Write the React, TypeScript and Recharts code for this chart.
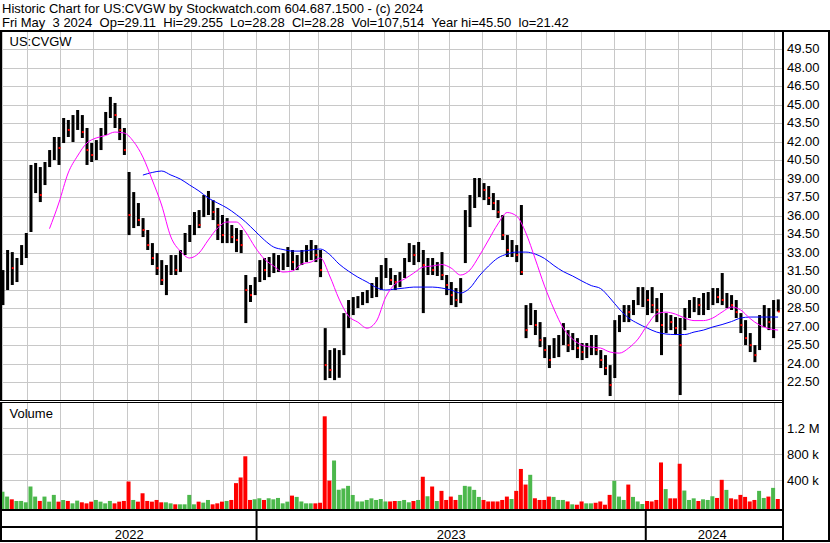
import { Bar, CartesianGrid, Cell, ComposedChart, Line, XAxis, YAxis } from 'recharts';

// one sample = 3 trading sessions, day 0 = first session shown (May 2022)
const STEP = 3;
const DAY_DOMAIN: [number, number] = [-0.5, 500.5];
const PRICE_DOMAIN: [number, number] = [21, 51];
const VOL_DOMAIN: [number, number] = [-46000, 1600000];

const highs = [
  31.64, 33.27, 33.1, 32.62, 33.67, 34.65, 40.17, 40.33, 40.0, 40.41,
  41.38, 42.44, 42.44, 43.98, 43.82, 44.22, 44.63, 44.22, 43.17, 41.95,
  42.19, 43.17, 44.47, 45.69, 45.2, 43.98, 43.17, 39.6, 37.97, 37.08,
  35.86, 34.89, 33.83, 33.02, 32.45, 32.05, 32.86, 32.86, 33.27, 34.65,
  35.3, 36.35, 36.51, 37.73, 38.06, 37.32, 36.68, 36.11, 35.86, 35.3,
  35.05, 34.89, 31.24, 30.43, 31.07, 32.45, 32.62, 32.7, 33.02, 32.86,
  33.02, 33.51, 33.27, 32.86, 33.27, 33.67, 34.08, 33.67, 33.27, 26.93,
  25.15, 25.3, 25.15, 28.15, 29.21, 29.45, 29.53, 29.86, 30.02, 30.59,
  31.07, 32.05, 32.62, 31.8, 31.24, 31.48, 32.62, 33.83, 33.67, 33.92,
  33.27, 32.62, 32.62, 32.29, 33.1, 31.24, 30.67, 30.18, 30.99, 36.51,
  37.73, 39.11, 39.11, 38.7, 38.46, 37.89, 37.32, 36.11, 34.48, 34.08,
  33.67, 36.92, 28.8, 28.96, 28.4, 27.42, 26.2, 25.55, 26.12, 26.37,
  27.34, 26.77, 26.53, 26.12, 25.72, 25.72, 26.37, 26.37, 25.15, 24.74,
  23.93, 27.58, 27.99, 28.8, 28.8, 29.21, 30.26, 30.26, 30.02, 30.26,
  29.37, 29.78, 28.15, 27.99, 27.83, 27.75, 28.56, 29.21, 29.45, 29.37,
  29.78, 29.86, 30.18, 30.18, 31.4, 29.78, 29.61, 29.21, 28.15, 27.58,
  26.53, 25.55, 27.99, 28.8, 28.56, 29.21, 29.26,
];

const lows = [
  28.8, 30.02, 30.43, 30.67, 32.05, 32.62, 34.73, 37.89, 37.16, 38.54,
  40.0, 40.57, 40.17, 41.95, 42.44, 42.03, 43.01, 42.36, 40.17, 40.41,
  40.57, 41.38, 42.6, 43.98, 43.17, 42.19, 40.98, 34.48, 35.05, 35.21,
  34.32, 33.27, 32.05, 31.24, 30.43, 29.61, 31.24, 31.24, 31.48, 32.86,
  33.92, 34.48, 35.05, 35.94, 36.11, 35.7, 34.08, 33.83, 33.83, 33.83,
  33.1, 33.02, 27.34, 29.05, 29.61, 30.67, 30.83, 31.07, 31.4, 31.48,
  31.64, 31.89, 31.64, 31.64, 32.05, 32.29, 32.45, 32.29, 31.07, 22.71,
  22.88, 22.71, 22.9, 24.74, 26.93, 27.99, 28.56, 28.8, 28.96, 29.37,
  29.45, 30.02, 31.0, 30.43, 30.02, 30.26, 31.0, 32.29, 32.05, 32.29,
  28.15, 31.24, 31.24, 31.16, 30.83, 29.61, 28.8, 28.64, 28.96, 32.21,
  35.13, 36.68, 37.57, 37.32, 36.92, 36.51, 35.86, 34.08, 32.7, 32.7,
  32.29, 31.24, 26.12, 27.18, 26.37, 25.39, 24.5, 23.69, 24.5, 24.58,
  25.55, 24.99, 25.15, 24.5, 24.34, 24.5, 24.74, 24.74, 23.69, 23.12,
  21.42, 22.88, 26.61, 27.42, 27.42, 27.99, 28.8, 28.64, 27.99, 28.15,
  27.42, 24.74, 26.53, 26.77, 26.37, 21.5, 26.77, 27.75, 28.23, 27.99,
  27.99, 28.4, 28.8, 28.96, 28.8, 28.56, 28.4, 27.75, 26.53, 25.55,
  24.99, 24.17, 25.15, 27.02, 26.77, 26.12, 28.28,
];

const closes = [
  30.59, 32.05, 31.8, 32.29, 33.27, 34.08, 37.97, 39.35, 37.73, 39.92,
  40.98, 41.79, 41.55, 43.41, 43.01, 43.82, 44.22, 42.84, 41.38, 40.98,
  41.79, 42.84, 43.98, 45.04, 44.22, 43.01, 41.38, 36.11, 36.92, 35.7,
  34.89, 33.67, 32.62, 31.8, 30.83, 31.24, 32.29, 31.64, 32.86, 34.08,
  34.73, 35.7, 35.3, 36.92, 37.32, 36.35, 35.3, 34.48, 35.3, 34.32,
  34.08, 33.67, 30.02, 29.61, 30.67, 31.8, 31.64, 32.05, 32.29, 32.29,
  32.45, 32.86, 32.29, 32.29, 32.86, 33.27, 33.43, 32.86, 31.64, 23.93,
  23.53, 24.1, 24.74, 26.77, 28.4, 28.8, 29.21, 29.37, 29.61, 30.02,
  30.43, 31.64, 32.05, 30.83, 30.67, 30.99, 32.29, 33.27, 32.86, 32.86,
  32.05, 32.05, 31.64, 31.8, 31.24, 30.43, 29.61, 29.21, 30.43, 36.11,
  36.92, 38.14, 38.3, 38.14, 37.49, 37.08, 36.35, 34.48, 33.27, 33.43,
  32.86, 31.48, 26.77, 28.4, 27.18, 25.96, 25.15, 24.34, 25.55, 25.96,
  26.37, 25.55, 25.96, 25.31, 24.99, 25.15, 25.96, 25.15, 24.34, 23.69,
  22.31, 27.18, 27.58, 28.4, 28.23, 28.56, 29.61, 29.78, 29.21, 28.8,
  28.4, 27.18, 27.58, 27.42, 26.93, 25.55, 27.99, 28.8, 28.96, 28.8,
  29.21, 29.37, 29.61, 29.45, 29.21, 29.21, 28.8, 28.23, 27.18, 26.12,
  25.55, 24.74, 27.58, 28.23, 27.42, 28.8, 28.28,
];

// thousands of shares
const volumes = [
  220, 145, 103, 78, 78, 57, 300, 145, 78, 145,
  67, 171, 67, 93, 78, 41, 83, 57, 41, 67,
  93, 67, 41, 78, 41, 67, 78, 377, 93, 67,
  196, 78, 67, 93, 57, 57, 41, 26, 26, 26,
  171, 26, 67, 52, 93, 26, 41, 67, 78, 93,
  352, 439, 765, 93, 103, 119, 93, 119, 103, 124,
  41, 67, 160, 140, 70, 41, 41, 41, 50, 1380,
  390, 700, 250, 270, 310, 170, 70, 70, 93, 118,
  93, 108, 70, 70, 77, 77, 93, 57, 77, 93,
  450, 150, 300, 77, 233, 93, 145, 93, 171, 310,
  300, 248, 140, 93, 70, 70, 70, 93, 145, 108,
  233, 570, 330, 480, 119, 93, 93, 145, 140, 93,
  93, 70, 26, 20, 70, 41, 41, 50, 70, 20,
  171, 388, 145, 93, 330, 140, 70, 31, 77, 70,
  93, 670, 260, 118, 118, 650, 238, 93, 118, 77,
  103, 93, 150, 124, 403, 248, 118, 103, 171, 140,
  70, 93, 233, 124, 145, 279, 108,
];

// short average (magenta), every second sample from sample 10
const FAST_START = 10;
const fastAverage = [
  35.0, 37.08, 39.52, 40.9, 41.95, 42.36, 42.56, 42.84, 42.76, 42.07,
  40.81, 38.95, 36.92, 34.32, 33.18, 32.62, 33.02, 34.08, 35.05, 35.54,
  35.54, 34.73, 33.51, 32.54, 31.97, 31.48, 31.56, 32.13, 32.29, 32.62,
  31.16, 29.29, 27.91, 27.42, 26.93, 27.5, 29.45, 30.51, 30.91, 31.4,
  31.89, 31.97, 32.09, 31.8, 31.24, 31.64, 32.78, 34.08, 35.38, 36.31,
  36.03, 34.65, 32.54, 30.34, 28.48, 26.93, 26.04, 25.55, 25.39, 25.31,
  24.99, 24.9, 25.31, 26.04, 27.18, 28.07, 28.23, 28.07, 27.75, 27.54,
  27.54, 27.75, 28.23, 28.64, 28.4, 27.71, 27.18, 26.89, 26.77,
];

// long average (blue), every second sample from sample 30
const SLOW_START = 30;
const slowAverage = [
  39.35, 39.56, 39.68, 39.35, 39.03, 38.54, 38.06, 37.49, 37.08, 36.68,
  36.15, 35.54, 34.81, 34.08, 33.51, 33.31, 33.18, 33.18, 33.27, 33.35,
  32.9, 32.13, 31.56, 31.07, 30.67, 30.22, 30.02, 30.1, 30.18, 30.26,
  30.26, 30.26, 30.18, 30.02, 29.78, 30.18, 31.16, 31.97, 32.62, 32.94,
  33.1, 33.1, 32.94, 32.58, 32.01, 31.52, 31.16, 30.75, 30.38, 30.14,
  29.37, 28.48, 27.75, 27.3, 26.93, 26.61, 26.45, 26.41, 26.41, 26.61,
  26.77, 27.02, 27.22, 27.46, 27.75, 27.83, 27.83, 27.83, 27.83,
];

// first session of each month (day index)
const monthStarts = [
  16, 37, 58, 80, 100, 121, 142, 163, 184, 203, 224, 245,
  267, 287, 308, 330, 349, 372, 393, 413, 434, 455, 475, 496,
];
const yearStarts = [163, 413];
const years = ['2022', '2023', '2024'];

const priceTicks = [
  21, 22.5, 24, 25.5, 27, 28.5, 30, 31.5, 33, 34.5, 36,
  37.5, 39, 40.5, 42, 43.5, 45, 46.5, 48, 49.5, 51,
];
const volumeTicks = [400000, 800000, 1200000, 1600000];

const yearEdges = [DAY_DOMAIN[0], ...yearStarts, DAY_DOMAIN[1] - 2];
const yearMids = years.map((_, i) => (yearEdges[i] + yearEdges[i + 1]) / 2);

const data = highs.map((high, i) => {
  const down = i > 0 && closes[i] < closes[i - 1];
  const f = i - FAST_START;
  const s = i - SLOW_START;
  return {
    day: i * STEP,
    high,
    low: lows[i],
    close: closes[i],
    range: [lows[i], high],
    down,
    vol: [VOL_DOMAIN[0], volumes[i] * 1000],
    fast: f >= 0 && f % 2 === 0 ? fastAverage[f / 2] : null,
    slow: s >= 0 && s % 2 === 0 ? slowAverage[s / 2] : null,
  };
});

const FONT = '"Liberation Sans", Arial, sans-serif';
const GRID = '#c8c8c8';

function PriceBar(props: any) {
  const { x, y, width, height, payload } = props;
  const top = Math.min(y, y + height);
  const h = Math.max(Math.abs(height), 1);
  const span = payload.high - payload.low;
  const cy = span > 0 ? top + (h * (payload.high - payload.close)) / span : top;
  return (
    <g>
      <rect x={x} y={top} width={width} height={h} fill="#000" />
      {payload.down && <rect x={x + width - 2} y={cy - 1} width={2} height={2} fill="#ff0000" />}
    </g>
  );
}

function PriceTick({ x, y, payload }: any) {
  const v = payload.value;
  if (v <= PRICE_DOMAIN[0] || v >= PRICE_DOMAIN[1]) return <g />;
  return (
    <text x={x} y={y + 3.5} fontSize={13} fontFamily={FONT} fill="#000" textAnchor="start">
      {v.toFixed(2)}
    </text>
  );
}

function VolumeTick({ x, y, payload }: any) {
  const v = payload.value;
  if (v >= VOL_DOMAIN[1]) return <g />;
  const label = v >= 1000000 ? `${v / 1000000} M` : `${v / 1000} k`;
  return (
    <text x={x} y={y + 4.5} fontSize={13} fontFamily={FONT} fill="#000" textAnchor="start">
      {label}
    </text>
  );
}

function YearTick({ x, y, payload }: any) {
  const v = payload.value;
  if (yearStarts.includes(v)) {
    return <line x1={x} x2={x} y1={y} y2={y + 33} stroke="#000" strokeWidth={2} />;
  }
  const i = yearMids.indexOf(v);
  return (
    <text x={x} y={y + 30} fontSize={13} fontFamily={FONT} fill="#000" textAnchor="middle">
      {years[i]}
    </text>
  );
}

const pre = { whiteSpace: 'pre' as const };

export default function App() {
  return (
    <div style={{ position: 'absolute', left: 0, top: 0, width: 830, height: 543, background: '#fff' }}>
      <div style={{ position: 'absolute', left: 0, top: 0 }}>
        <ComposedChart width={830} height={402} data={data} margin={{ top: 31.5, right: 0, bottom: 0.8, left: 2 }}>
          <CartesianGrid stroke={GRID} shapeRendering="crispEdges" />
          <XAxis dataKey="day" type="number" domain={DAY_DOMAIN} ticks={monthStarts} hide height={0} allowDataOverflow />
          <YAxis
            orientation="right"
            width={48}
            domain={PRICE_DOMAIN}
            ticks={priceTicks}
            interval={0}
            axisLine={false}
            tickLine={false}
            tickSize={0}
            tickMargin={5}
            tick={(p: any) => <PriceTick {...p} />}
            allowDataOverflow
          />
          <Bar dataKey="range" barSize={3} shape={(p: any) => <PriceBar {...p} />} isAnimationActive={false} />
          <Line dataKey="slow" type="monotone" stroke="#0000ff" strokeWidth={1} dot={false} activeDot={false} connectNulls isAnimationActive={false} />
          <Line dataKey="fast" type="monotone" stroke="#ff00ff" strokeWidth={1} dot={false} activeDot={false} connectNulls isAnimationActive={false} />
        </ComposedChart>
      </div>

      <div style={{ position: 'absolute', left: 0, top: 395 }}>
        <ComposedChart width={830} height={147} data={data} margin={{ top: 7, right: 0, bottom: 0, left: 2 }}>
          <CartesianGrid stroke={GRID} shapeRendering="crispEdges" />
          <XAxis
            xAxisId="years"
            dataKey="day"
            type="number"
            domain={DAY_DOMAIN}
            ticks={[...yearStarts, ...yearMids]}
            interval={0}
            height={33}
            axisLine={false}
            tickLine={false}
            tickSize={0}
            tickMargin={0}
            tick={(p: any) => <YearTick {...p} />}
            allowDataOverflow
          />
          <XAxis dataKey="day" type="number" domain={DAY_DOMAIN} ticks={monthStarts} hide height={0} allowDataOverflow />
          <YAxis
            orientation="right"
            width={48}
            domain={VOL_DOMAIN}
            ticks={volumeTicks}
            interval={0}
            axisLine={false}
            tickLine={false}
            tickSize={0}
            tickMargin={5}
            tick={(p: any) => <VolumeTick {...p} />}
            allowDataOverflow
          />
          <Bar dataKey="vol" barSize={4} isAnimationActive={false}>
            {data.map((d, i) => (
              <Cell key={i} fill={d.down ? '#ff0000' : '#4cb84c'} />
            ))}
          </Bar>
        </ComposedChart>
      </div>

      <svg width={830} height={543} style={{ position: 'absolute', left: 0, top: 0, pointerEvents: 'none' }}>
        <g fontFamily={FONT} fontSize={13} fill="#000">
          <text x={2} y={12.7} xmlSpace="preserve" style={pre}>Historic Chart for US:CVGW by Stockwatch.com 604.687.1500 - (c) 2024</text>
          <text x={2} y={26.7} xmlSpace="preserve" style={pre}>{'Fri May  3 2024  Op=29.11  Hi=29.255  Lo=28.28  Cl=28.28  Vol=107,514  Year hi=45.50  lo=21.42'}</text>
          <text x={9.5} y={46}>US:CVGW</text>
          <text x={9.5} y={418.3}>Volume</text>
        </g>
        <g fill="#000" shapeRendering="crispEdges">
          <rect x={0} y={30} width={830} height={2} />
          <rect x={0} y={30} width={2} height={512} />
          <rect x={782} y={30} width={2} height={512} />
          <rect x={828} y={30} width={2} height={512} />
          <rect x={0} y={400} width={782} height={1} />
          <rect x={0} y={401} width={782} height={1} fill="#fff" />
          <rect x={0} y={402} width={782} height={1} />
          <rect x={0} y={509} width={782} height={2} />
          <rect x={0} y={526} width={782} height={2} />
          <rect x={0} y={540} width={830} height={2} />
        </g>
      </svg>
    </div>
  );
}
